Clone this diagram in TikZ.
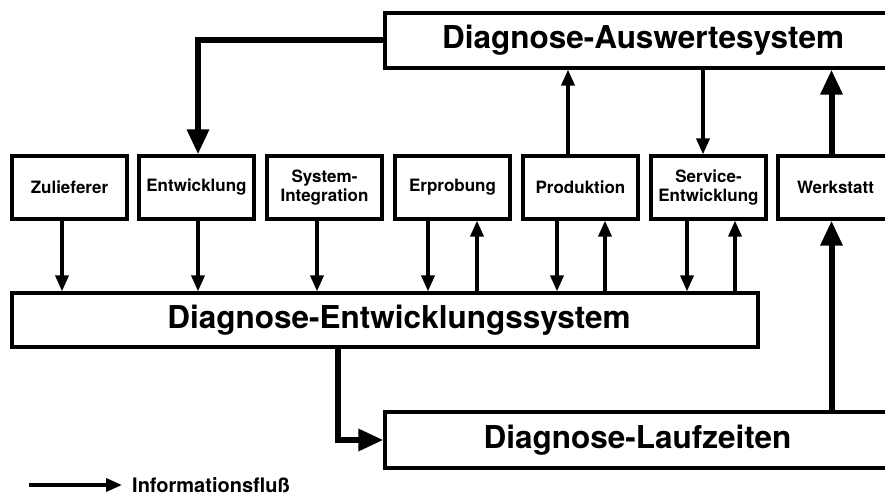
\documentclass[tikz,border=0pt]{standalone}
\usepackage{fontspec}
\setmainfont{TeX Gyre Heros}
\usetikzlibrary{arrows.meta,calc}

\begin{document}
\begin{tikzpicture}[
      x=1pt,y=1pt,
      font=\bfseries,
      bloc/.style={
        draw,
        line width=3.2pt,
        inner sep=0pt,
        align=center
      },
      petit/.style={
        bloc,
        minimum width=115pt,
        minimum height=63pt,
        font=\bfseries\fontsize{17}{19}\selectfont
      },
      grand/.style={
        bloc,
        font=\bfseries\fontsize{31.5}{37}\selectfont
      },
      fl/.style={
        line width=3.5pt,
        -{Triangle[length=16pt,width=13pt]}
      },
      flg/.style={
        line width=6pt,
        -{Triangle[length=25pt,width=21pt]}
      }
    ]
      \clip (0,0) rectangle (885,495);
      \fill[white] (0,0) rectangle (885,495);

      \node (a1) at (643,454.5) [grand,minimum width=516pt,minimum height=55pt]{Diagnose-Auswertesystem};
      \node (a2) at (385,175) [grand,minimum width=746pt,minimum height=54pt]{\hspace*{28pt}Diagnose-Entwicklungssystem};
      \node (a3) at (637.5,55) [grand,minimum width=505pt,minimum height=56pt]{Diagnose-Laufzeiten};

      \node (b1) at (69.5,307.5) [petit]{Zulieferer};
      \node (b2) at (196.5,307.5) [petit]{Entwicklung};
      \node (b3) at (324.5,307.5) [petit]{System-\\Integration};
      \node (b4) at (452.5,307.5) [petit]{Erprobung};
      \node (b5) at (580.5,307.5) [petit]{Produktion};
      \node (b6) at (708.5,307.5) [petit]{Service-\\Entwicklung};
      \node (b7) at (835.5,307.5) [petit]{Werkstatt};

      % Legende
      \coordinate (l1) at (29,10);
      \node (leg) at (132,10) [anchor=west,inner sep=0pt,font=\bfseries\fontsize{20}{22}\selectfont]{Informationsfluß};
      \draw[fl] (l1) -- ([xshift=-10pt]leg.west);

      % Auswertesystem
      \draw[flg] (a1.west) -| ([xshift=1.5pt]b2.north);
      \draw[fl] ([xshift=-12.5pt]b5.north) -- ([xshift=-12.5pt]b5.north |- a1.south);
      \draw[fl] ([xshift=-5.5pt]b6.north |- a1.south) -- ([xshift=-5.5pt]b6.north);
      \draw[flg] ([xshift=-4pt]b7.north) -- ([xshift=-4pt]b7.north |- a1.south);

      % Entwicklungssystem
      \draw[fl] ([xshift=-7.5pt]b1.south) -- ([xshift=-7.5pt]b1.south |- a2.north);
      \draw[fl] ([xshift=1.5pt]b2.south) -- ([xshift=1.5pt]b2.south |- a2.north);
      \draw[fl] ([xshift=-7.5pt]b3.south) -- ([xshift=-7.5pt]b3.south |- a2.north);
      \draw[fl] ([xshift=-24.5pt]b4.south) -- ([xshift=-24.5pt]b4.south |- a2.north);
      \draw[fl] ([xshift=24.5pt]b4.south |- a2.north) -- ([xshift=24.5pt]b4.south);
      \draw[fl] ([xshift=-23.5pt]b5.south) -- ([xshift=-23.5pt]b5.south |- a2.north);
      \draw[fl] ([xshift=24.5pt]b5.south |- a2.north) -- ([xshift=24.5pt]b5.south);
      \draw[fl] ([xshift=-21.5pt]b6.south) -- ([xshift=-21.5pt]b6.south |- a2.north);
      \draw[fl] ([xshift=26.5pt]b6.south |- a2.north) -- ([xshift=26.5pt]b6.south);

      % Laufzeiten
      \draw[flg] ([xshift=-47pt]a2.south) |- (a3.west);
      \draw[flg] ([xshift=-4pt]b7.south |- a3.north) -- ([xshift=-4pt]b7.south);

    \end{tikzpicture}
\end{document}
